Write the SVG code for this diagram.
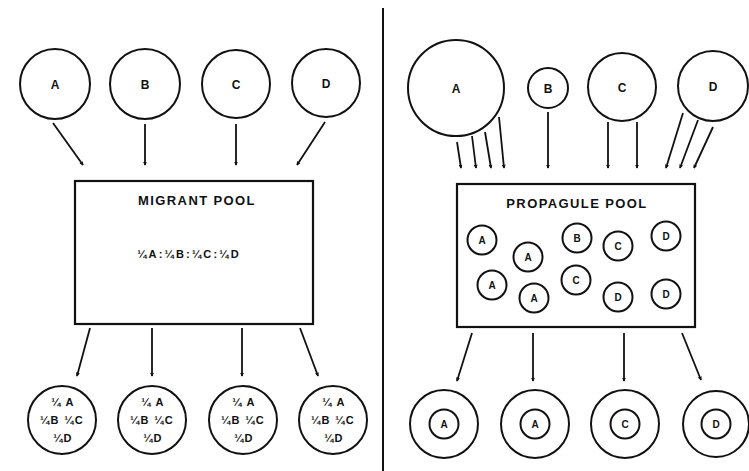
<svg xmlns="http://www.w3.org/2000/svg" width="749" height="471" viewBox="0 0 749 471">
<defs>
<marker id="ah" viewBox="0 0 6 6" refX="5" refY="3" markerWidth="4" markerHeight="4" orient="auto" markerUnits="userSpaceOnUse">
<path d="M0,0 L6,3 L0,6 z" fill="#111"/>
</marker>
<style>
.c{fill:none;stroke:#111;stroke-width:2}
.r{fill:#fff;stroke:#111;stroke-width:2.2}
.l{stroke:#111;stroke-width:1.8;fill:none;marker-end:url(#ah)}
.t{font-family:"Liberation Sans",Arial,sans-serif;font-weight:bold;fill:#111;text-anchor:middle}
.big{font-size:12px}
.sm{font-size:10px}
.fr{font-size:11px;letter-spacing:1.3px}
.ttl{font-size:13px;letter-spacing:1.4px}
</style>
</defs>
<rect width="749" height="471" fill="#fff"/>
<line x1="383" y1="8" x2="383" y2="471" stroke="#111" stroke-width="2"/>

<!-- LEFT PANEL -->
<g id="L-A"><circle class="c" cx="55" cy="84" r="35"/><text class="t big" x="55" y="89">A</text></g>
<g id="L-B"><circle class="c" cx="145" cy="84" r="35"/><text class="t big" x="145" y="89">B</text></g>
<g id="L-C"><circle class="c" cx="236" cy="84" r="34"/><text class="t big" x="236" y="89">C</text></g>
<g id="L-D"><circle class="c" cx="326" cy="83" r="34"/><text class="t big" x="326" y="88">D</text></g>

<g id="migrant-pool">
<rect class="r" x="75" y="181" width="238" height="143"/>
<text class="t ttl" x="197" y="205">MIGRANT POOL</text>
<text class="t fr" x="189" y="258" style="letter-spacing:2.2px">¼A:¼B:¼C:¼D</text>
</g>

<g id="L-out1"><circle class="c" cx="62" cy="420" r="34"/>
<text class="t fr" x="63" y="406">¼ A</text><text class="t fr" x="62" y="424">¼B ¼C</text><text class="t fr" x="63" y="442">¼D</text></g>
<g id="L-out2"><circle class="c" cx="152" cy="420" r="34"/>
<text class="t fr" x="153" y="406">¼ A</text><text class="t fr" x="152" y="424">¼B ¼C</text><text class="t fr" x="153" y="442">¼D</text></g>
<g id="L-out3"><circle class="c" cx="243" cy="420" r="34"/>
<text class="t fr" x="244" y="406">¼ A</text><text class="t fr" x="243" y="424">¼B ¼C</text><text class="t fr" x="244" y="442">¼D</text></g>
<g id="L-out4"><circle class="c" cx="333" cy="420" r="34"/>
<text class="t fr" x="334" y="406">¼ A</text><text class="t fr" x="333" y="424">¼B ¼C</text><text class="t fr" x="334" y="442">¼D</text></g>

<!-- RIGHT PANEL -->
<g id="R-A"><circle class="c" cx="456" cy="88" r="48"/><text class="t big" x="456" y="93">A</text></g>
<g id="R-B"><circle class="c" cx="548" cy="88" r="20"/><text class="t big" x="548" y="93">B</text></g>
<g id="R-C"><circle class="c" cx="622" cy="87" r="34"/><text class="t big" x="622" y="92">C</text></g>
<g id="R-D"><circle class="c" cx="713" cy="86" r="35"/><text class="t big" x="713" y="91">D</text></g>

<g id="propagule-pool">
<rect class="r" x="457" y="184" width="238" height="143"/>
<text class="t ttl" x="577" y="208">PROPAGULE POOL</text>
<g class="c"><circle cx="482" cy="240" r="14.5"/><circle cx="528" cy="257" r="14.5"/><circle cx="492" cy="285" r="14.5"/><circle cx="534" cy="298" r="14.5"/><circle cx="577" cy="238" r="14.5"/><circle cx="618" cy="246" r="14.5"/><circle cx="576" cy="280" r="14.5"/><circle cx="666" cy="236" r="14.5"/><circle cx="618" cy="297" r="14.5"/><circle cx="666" cy="294" r="14.5"/></g>
<text class="t sm" x="482" y="244">A</text><text class="t sm" x="528" y="261">A</text><text class="t sm" x="492" y="289">A</text><text class="t sm" x="534" y="302">A</text><text class="t sm" x="577" y="242">B</text><text class="t sm" x="618" y="250">C</text><text class="t sm" x="576" y="284">C</text><text class="t sm" x="666" y="240">D</text><text class="t sm" x="618" y="301">D</text><text class="t sm" x="666" y="298">D</text>
</g>

<g id="R-out1"><circle class="c" cx="444" cy="424" r="34"/><circle class="c" cx="444" cy="424" r="14.5"/><text class="t sm" x="444" y="428">A</text></g>
<g id="R-out2"><circle class="c" cx="535" cy="424" r="34"/><circle class="c" cx="535" cy="424" r="14.5"/><text class="t sm" x="535" y="428">A</text></g>
<g id="R-out3"><circle class="c" cx="625" cy="424" r="34"/><circle class="c" cx="625" cy="424" r="14.5"/><text class="t sm" x="625" y="428">C</text></g>
<g id="R-out4"><circle class="c" cx="716" cy="424" r="33"/><circle class="c" cx="716" cy="424" r="14.5"/><text class="t sm" x="716" y="428">D</text></g>

<g id="connectors">
<line class="l" x1="53" y1="123" x2="83" y2="165"/>
<line class="l" x1="145" y1="124" x2="145" y2="165"/>
<line class="l" x1="236" y1="124" x2="236" y2="165"/>
<line class="l" x1="325" y1="122" x2="297" y2="165"/>
<line class="l" x1="90" y1="328" x2="77" y2="376"/>
<line class="l" x1="152" y1="328" x2="152" y2="376"/>
<line class="l" x1="242" y1="328" x2="242" y2="376"/>
<line class="l" x1="300" y1="328" x2="318" y2="376"/>
<line class="l" x1="457" y1="142" x2="461" y2="168"/>
<line class="l" x1="472" y1="136" x2="476" y2="168"/>
<line class="l" x1="485" y1="132" x2="491" y2="168"/>
<line class="l" x1="499" y1="117" x2="504" y2="168"/>
<line class="l" x1="548" y1="112" x2="548" y2="168"/>
<line class="l" x1="608" y1="122" x2="608" y2="168"/>
<line class="l" x1="637" y1="122" x2="637" y2="168"/>
<line class="l" x1="683" y1="113" x2="666" y2="168"/>
<line class="l" x1="698" y1="120" x2="680" y2="168"/>
<line class="l" x1="713" y1="127" x2="694" y2="168"/>
<line class="l" x1="472" y1="333" x2="457" y2="381"/>
<line class="l" x1="533" y1="333" x2="533" y2="381"/>
<line class="l" x1="624" y1="333" x2="624" y2="381"/>
<line class="l" x1="682" y1="333" x2="701" y2="380"/>
</g>
</svg>
